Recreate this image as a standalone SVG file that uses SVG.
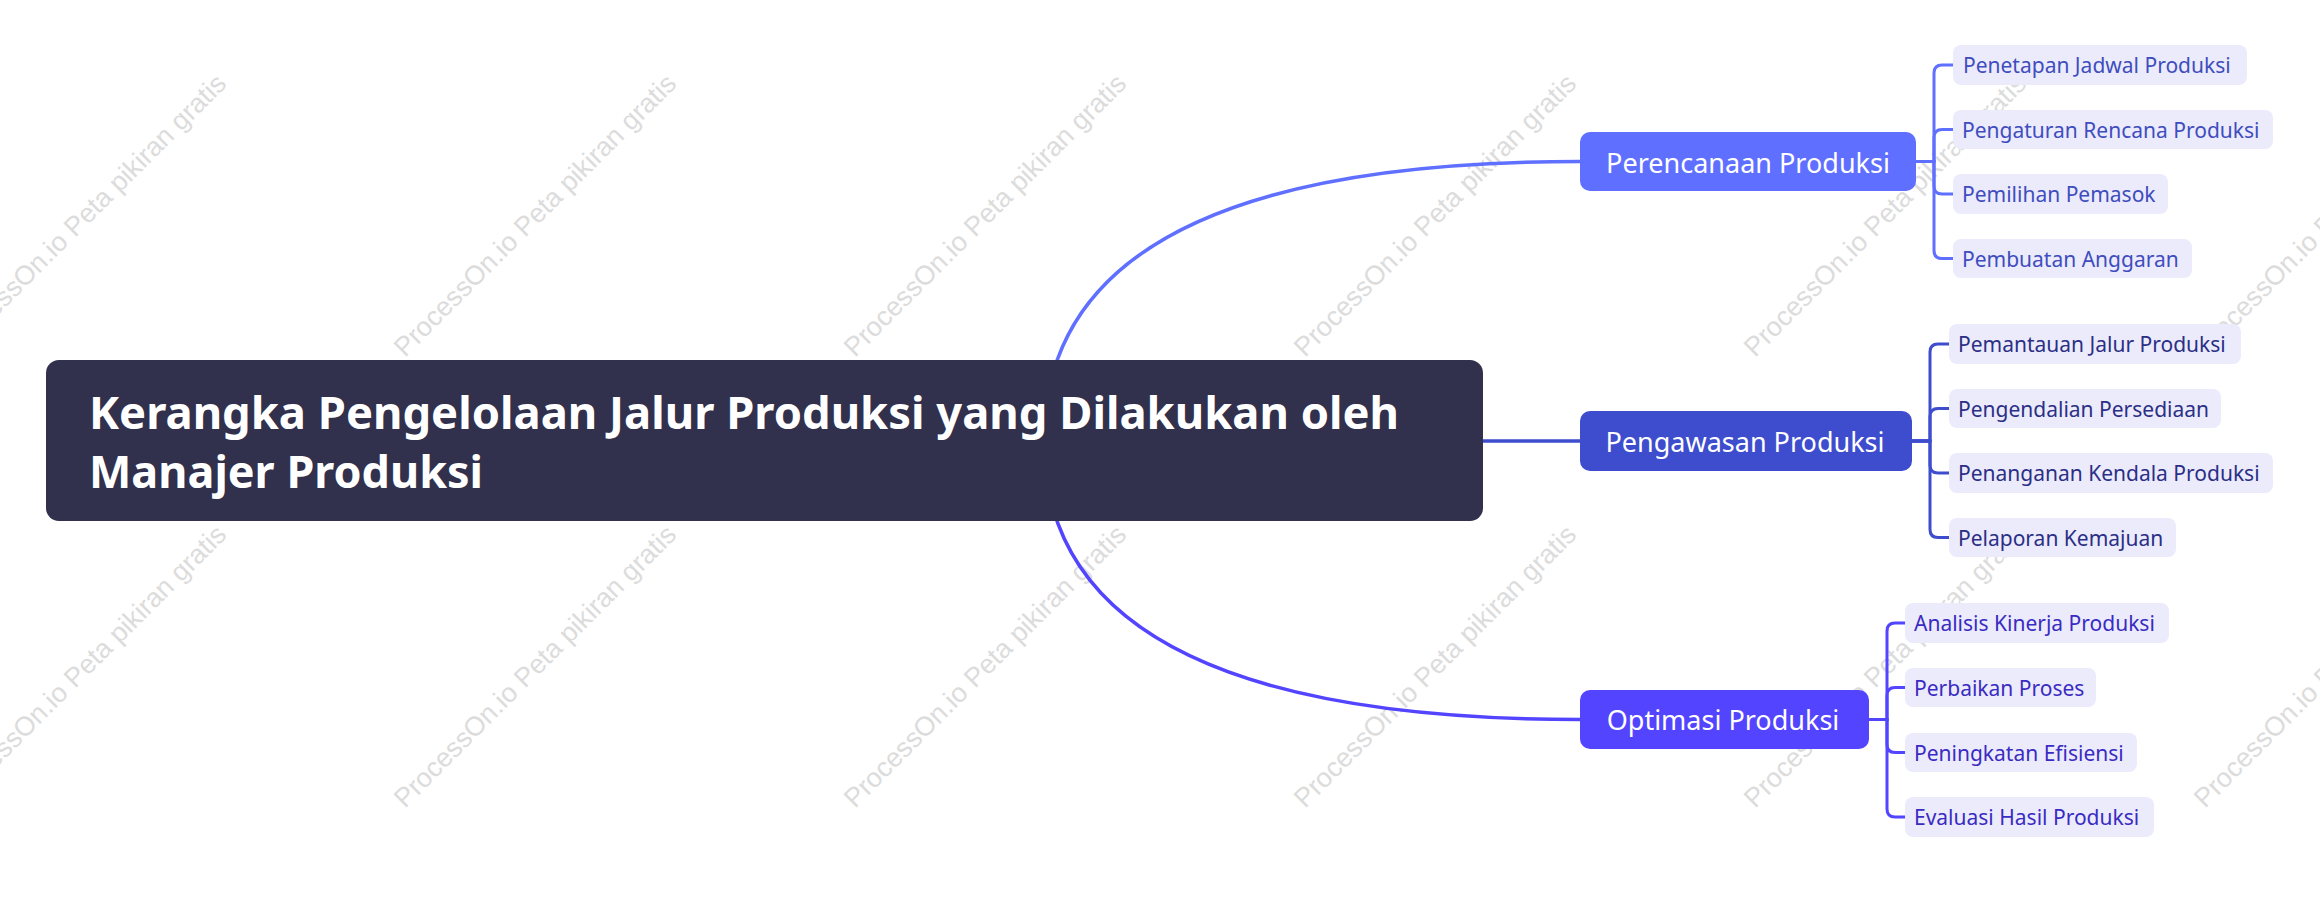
<svg xmlns="http://www.w3.org/2000/svg" width="2320" height="897" viewBox="0 0 2320 897">
<style>
.wm{font-family:"Liberation Sans",Arial,sans-serif;font-size:27px;fill:#dcdcdc}
.root-t{font-family:"Noto Sans","Open Sans",sans-serif;font-size:45px;font-weight:bold;fill:#ffffff}
.main-t{font-family:"Noto Sans","Open Sans",sans-serif;font-size:27px;fill:#ffffff}
.sub-t{font-family:"Noto Sans","Open Sans",sans-serif;font-size:21px}
.sub{fill:#EBEBFC}
.g1 .sub-t{fill:#3F4DBE}
.g2 .sub-t{fill:#2B2F85}
.g3 .sub-t{fill:#3A2BC2}
.ln{fill:none;stroke-width:3.5;stroke-linecap:round}
.br{fill:none;stroke-width:3}
</style>
<rect width="2320" height="897" fill="#ffffff"/>
<g id="watermarks">
<text class="wm" transform="translate(-45,358) rotate(-45)">ProcessOn.io Peta pikiran gratis</text>
<text class="wm" transform="translate(405,358) rotate(-45)">ProcessOn.io Peta pikiran gratis</text>
<text class="wm" transform="translate(855,358) rotate(-45)">ProcessOn.io Peta pikiran gratis</text>
<text class="wm" transform="translate(1305,358) rotate(-45)">ProcessOn.io Peta pikiran gratis</text>
<text class="wm" transform="translate(1755,358) rotate(-45)">ProcessOn.io Peta pikiran gratis</text>
<text class="wm" transform="translate(2205,358) rotate(-45)">ProcessOn.io Peta pikiran gratis</text>
<text class="wm" transform="translate(-45,809) rotate(-45)">ProcessOn.io Peta pikiran gratis</text>
<text class="wm" transform="translate(405,809) rotate(-45)">ProcessOn.io Peta pikiran gratis</text>
<text class="wm" transform="translate(855,809) rotate(-45)">ProcessOn.io Peta pikiran gratis</text>
<text class="wm" transform="translate(1305,809) rotate(-45)">ProcessOn.io Peta pikiran gratis</text>
<text class="wm" transform="translate(1755,809) rotate(-45)">ProcessOn.io Peta pikiran gratis</text>
<text class="wm" transform="translate(2205,809) rotate(-45)">ProcessOn.io Peta pikiran gratis</text>
</g>
<g id="connectors">
<path class="ln" stroke="#5F6FFF" d="M1044,441 Q1044,161.5 1580,161.5"/>
<path class="ln" stroke="#3D4DCE" d="M1044,441 H1580"/>
<path class="ln" stroke="#5344FF" d="M1044,441 Q1044,719.5 1580,719.5"/>
<g stroke="#5F6FFF" class="br">
<path d="M1916,161.5 H1934 V73 Q1934,65 1942,65 H1953"/>
<path d="M1916,161.5 H1934 V137.5 Q1934,129.5 1942,129.5 H1953"/>
<path d="M1916,161.5 H1934 V186 Q1934,194 1942,194 H1953"/>
<path d="M1916,161.5 H1934 V250.5 Q1934,258.5 1942,258.5 H1953"/>
</g>
<g stroke="#3D4DCE" class="br">
<path d="M1912,441 H1930 V352 Q1930,344 1938,344 H1949"/>
<path d="M1912,441 H1930 V416.5 Q1930,408.5 1938,408.5 H1949"/>
<path d="M1912,441 H1930 V465 Q1930,473 1938,473 H1949"/>
<path d="M1912,441 H1930 V529.5 Q1930,537.5 1938,537.5 H1949"/>
</g>
<g stroke="#5344FF" class="br">
<path d="M1869,719.5 H1887 V631 Q1887,623 1895,623 H1905"/>
<path d="M1869,719.5 H1887 V695.5 Q1887,687.5 1895,687.5 H1905"/>
<path d="M1869,719.5 H1887 V744.5 Q1887,752.5 1895,752.5 H1905"/>
<path d="M1869,719.5 H1887 V809 Q1887,817 1895,817 H1905"/>
</g>
</g>
<g id="root">
<rect x="46" y="360" width="1437" height="161" rx="13" fill="#31304D"/>
<text class="root-t" x="89" y="429" textLength="1310" lengthAdjust="spacingAndGlyphs">Kerangka Pengelolaan Jalur Produksi yang Dilakukan oleh</text>
<text class="root-t" x="89" y="488" textLength="394" lengthAdjust="spacingAndGlyphs">Manajer Produksi</text>
</g>
<g id="perencanaan">
<rect x="1580" y="132" width="336" height="59" rx="10" fill="#5F6FFF"/>
<text class="main-t" x="1748" y="172.5" text-anchor="middle">Perencanaan Produksi</text>
</g>
<g id="pengawasan">
<rect x="1580" y="411" width="332" height="60" rx="10" fill="#3D4DCE"/>
<text class="main-t" x="1745" y="451.5" text-anchor="middle">Pengawasan Produksi</text>
</g>
<g id="optimasi">
<rect x="1580" y="690" width="289" height="59" rx="10" fill="#5344FF"/>
<text class="main-t" x="1723" y="730" text-anchor="middle">Optimasi Produksi</text>
</g>
<g class="g1">
<g id="penetapan"><rect class="sub" x="1953" y="45" width="294" height="40" rx="8"/><text class="sub-t" x="1963" y="73">Penetapan Jadwal Produksi</text></g>
<g id="pengaturan"><rect class="sub" x="1953" y="110" width="320" height="39" rx="8"/><text class="sub-t" x="1962" y="137.5">Pengaturan Rencana Produksi</text></g>
<g id="pemilihan"><rect class="sub" x="1953" y="174" width="215" height="40" rx="8"/><text class="sub-t" x="1962" y="202">Pemilihan Pemasok</text></g>
<g id="pembuatan"><rect class="sub" x="1953" y="239" width="239" height="39" rx="8"/><text class="sub-t" x="1962" y="266.5">Pembuatan Anggaran</text></g>
</g>
<g class="g2">
<g id="pemantauan"><rect class="sub" x="1949" y="324" width="292" height="40" rx="8"/><text class="sub-t" x="1958" y="352">Pemantauan Jalur Produksi</text></g>
<g id="pengendalian"><rect class="sub" x="1949" y="389" width="272" height="39" rx="8"/><text class="sub-t" x="1958" y="416.5">Pengendalian Persediaan</text></g>
<g id="penanganan"><rect class="sub" x="1949" y="453" width="324" height="40" rx="8"/><text class="sub-t" x="1958" y="481">Penanganan Kendala Produksi</text></g>
<g id="pelaporan"><rect class="sub" x="1949" y="518" width="227" height="39" rx="8"/><text class="sub-t" x="1958" y="545.5">Pelaporan Kemajuan</text></g>
</g>
<g class="g3">
<g id="analisis"><rect class="sub" x="1905" y="603" width="264" height="40" rx="8"/><text class="sub-t" x="1914" y="631">Analisis Kinerja Produksi</text></g>
<g id="perbaikan"><rect class="sub" x="1905" y="668" width="191" height="39" rx="8"/><text class="sub-t" x="1914" y="695.5">Perbaikan Proses</text></g>
<g id="peningkatan"><rect class="sub" x="1905" y="733" width="232" height="39" rx="8"/><text class="sub-t" x="1914" y="760.5">Peningkatan Efisiensi</text></g>
<g id="evaluasi"><rect class="sub" x="1905" y="797" width="249" height="40" rx="8"/><text class="sub-t" x="1914" y="825">Evaluasi Hasil Produksi</text></g>
</g>
</svg>
